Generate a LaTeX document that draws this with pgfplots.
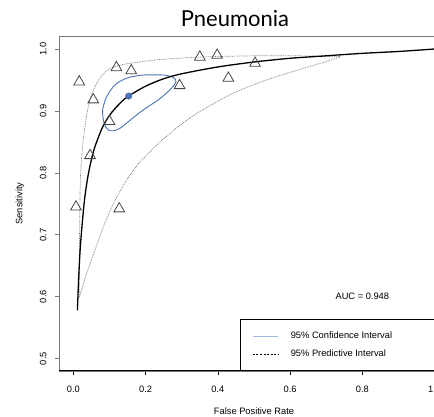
\documentclass[border=0pt]{standalone}
\usepackage{pgfplots}
\pgfplotsset{compat=1.18}
\usepackage{fontspec}
\setmainfont{Liberation Sans}
\newfontfamily\titlefont{Lato}

\definecolor{ciblue}{RGB}{74,115,180}
\definecolor{cilight}{RGB}{160,185,225}
\definecolor{pigray}{RGB}{120,120,120}
\definecolor{tri}{RGB}{70,70,70}

\newcommand{\lab}{\fontsize{9.3}{11}\selectfont}

\begin{document}
\begin{tikzpicture}
\begin{axis}[
    scale only axis,
    width=390pt, height=335pt,
    xmin=-0.04, xmax=1.04,
    ymin=0.48, ymax=1.021,
    xtick={0,0.2,0.4,0.6,0.8,1.0},
    ytick={0.5,0.6,0.7,0.8,0.9,1.0},
    xtick pos=left, ytick pos=left,
    tick align=outside,
    major tick length=4pt,
    axis line style={pigray, line width=0.6pt},
    x tick style={black, line width=0.6pt},
    y tick style={pigray, line width=0.6pt},
    /pgf/number format/assume math mode=true,
    xticklabel shift=7pt,
    yticklabel shift=5pt,
    xticklabel style={font=\lab, /pgf/number format/.cd, fixed, fixed zerofill, precision=1},
    yticklabel style={font=\lab, rotate=90, anchor=south, /pgf/number format/.cd, fixed, fixed zerofill, precision=1},
    xlabel={False Positive Rate},
    ylabel={Sensitivity},
    xlabel style={font=\lab, at={(rel axis cs:0.5,-0.1185)}, anchor=center},
    ylabel style={font=\lab, at={(rel axis cs:-0.1,0.5)}, anchor=center},
    legend cell align=left,
    legend image code/.code={\draw[#1] (0pt,0pt) -- (25.6pt,0pt);},
    legend style={at={(axis cs:0.461,0.48)}, anchor=south west,
        draw=black, line width=0.6pt, fill=white,
        inner xsep=12pt, inner ysep=10.7pt, row sep=5.3pt, font=\lab,
        /tikz/every odd column/.append style={column sep=10pt}},
]
% legend samples
\addlegendimage{cilight, line width=1pt}
\addlegendentry{95\% Confidence Interval\hspace*{60pt}}
\addlegendimage{black, line width=0.6pt, dash pattern=on 2pt off 1.6pt}
\addlegendentry{95\% Predictive Interval\hspace*{60pt}}

% 95% predictive region, upper edge
\addplot[forget plot, pigray, line width=0.7pt, dash pattern=on 0.8pt off 0.9pt, smooth, tension=0.4] coordinates {
(0.0162,0.600) (0.0165,0.650) (0.0170,0.700) (0.0178,0.750) (0.0190,0.785)
(0.022,0.820) (0.027,0.852) (0.034,0.883) (0.041,0.907) (0.050,0.926)
(0.065,0.945) (0.080,0.958) (0.100,0.968) (0.130,0.974) (0.170,0.978)
(0.240,0.983) (0.350,0.987) (0.500,0.989) (0.620,0.989) (0.738,0.988)
};
% 95% predictive region, lower edge
\addplot[forget plot, pigray, line width=0.7pt, dash pattern=on 0.8pt off 0.9pt, smooth, tension=0.4] coordinates {
(0.0162,0.600) (0.025,0.615) (0.035,0.635) (0.055,0.668) (0.083,0.713)
(0.111,0.751) (0.148,0.789) (0.185,0.818) (0.240,0.850) (0.300,0.879)
(0.350,0.899) (0.443,0.929) (0.535,0.950) (0.627,0.967) (0.701,0.980)
(0.738,0.987)
};
% 95% confidence region
\addplot[forget plot, ciblue, line width=0.9pt, smooth, tension=0.5] coordinates {
(0.194,0.958) (0.249,0.958) (0.277,0.954) (0.284,0.947) (0.272,0.937)
(0.240,0.920) (0.194,0.902) (0.157,0.885) (0.129,0.872) (0.111,0.868)
(0.097,0.869) (0.088,0.876) (0.083,0.885) (0.081,0.902) (0.092,0.923)
(0.115,0.942) (0.148,0.953) (0.194,0.958) (0.249,0.958)
};
% SROC curve
\addplot[forget plot, black, line width=1.3pt, smooth] coordinates {
(0.011,0.578) (0.015,0.637) (0.020,0.688) (0.030,0.753) (0.040,0.794)
(0.050,0.822) (0.060,0.843) (0.080,0.873) (0.100,0.893) (0.125,0.910)
(0.150,0.923) (0.200,0.940) (0.250,0.952) (0.300,0.960) (0.400,0.971)
(0.500,0.979) (0.600,0.985) (0.700,0.989) (0.800,0.993) (0.900,0.996)
(1.000,1.000)
};
% studies
\addplot[forget plot, only marks, mark=triangle, mark size=6.2pt, mark options={draw=tri, line width=0.8pt, fill=none}] coordinates {
(0.016,0.947) (0.055,0.918) (0.119,0.970) (0.160,0.965) (0.100,0.883)
(0.046,0.828) (0.007,0.745) (0.127,0.742) (0.294,0.941) (0.350,0.987)
(0.398,0.990) (0.429,0.953) (0.503,0.977)
};
% summary point
\addplot[forget plot, only marks, mark=*, mark size=3.3pt, color=ciblue] coordinates {(0.153,0.924)};

\node[font=\lab] at (axis cs:0.80,0.600) {AUC = 0.948};
\draw[black, line width=1pt] (rel axis cs:0,0) -- (rel axis cs:1,0);
\coordinate (TL) at (rel axis cs:0,1);
\coordinate (BL) at (rel axis cs:0,0);
\end{axis}
\node[anchor=base, font=\titlefont\fontsize{22}{26}\selectfont] at ([xshift=176pt,yshift=9.3pt]TL) {Pneumonia};
\pgfresetboundingbox
\useasboundingbox ([xshift=-59pt,yshift=-46pt]BL) rectangle ([xshift=375pt,yshift=36pt]TL);
\end{tikzpicture}
\end{document}
